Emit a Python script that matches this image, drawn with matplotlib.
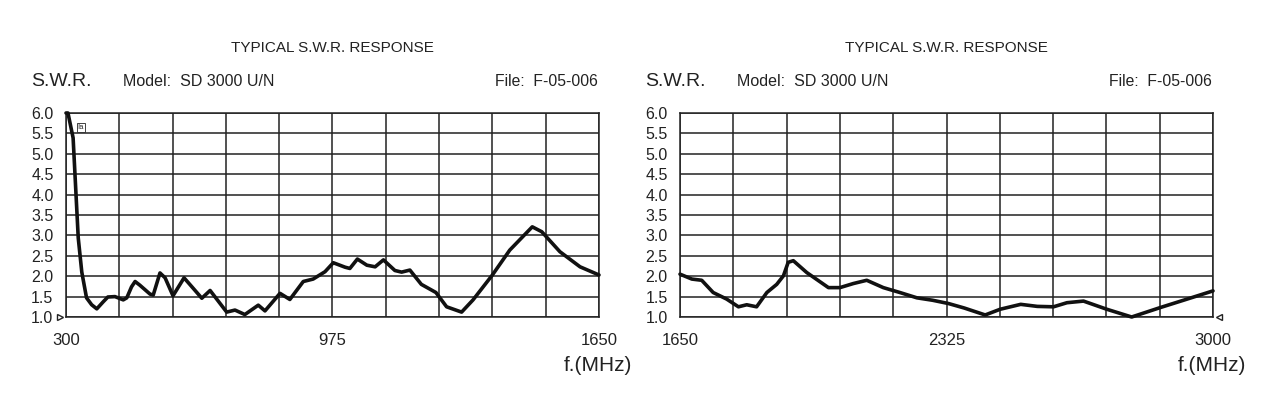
import matplotlib.pyplot as plt
import numpy as np

# S.W.R. readings, 300 - 1650 MHz
freq_lo = [300, 305, 318, 331, 340, 352, 365, 378, 394, 406, 424, 432, 445, 454,
           466, 475, 487, 513, 521, 538, 551, 571, 599, 618, 644, 665, 707, 728,
           753, 787, 804, 842, 867, 901, 926, 956, 977, 1007, 1019, 1038, 1062,
           1083, 1104, 1133, 1150, 1171, 1200, 1237, 1264, 1302, 1331, 1380,
           1424, 1481, 1505, 1551, 1602, 1650]
swr_lo = [6.0, 6.0, 5.39, 2.94, 2.1, 1.47, 1.3, 1.2, 1.37, 1.49, 1.5, 1.47, 1.42,
          1.47, 1.74, 1.87, 1.78, 1.56, 1.54, 2.08, 1.96, 1.52, 1.96, 1.75, 1.46,
          1.65, 1.12, 1.17, 1.06, 1.29, 1.15, 1.58, 1.43, 1.87, 1.93, 2.11, 2.33,
          2.22, 2.19, 2.42, 2.27, 2.23, 2.40, 2.14, 2.10, 2.15, 1.80, 1.60, 1.25,
          1.12, 1.42, 2.03, 2.64, 3.21, 3.09, 2.60, 2.23, 2.03]

# S.W.R. readings, 1650 - 3000 MHz
freq_hi = [1650, 1680, 1705, 1734, 1768, 1798, 1819, 1844, 1870, 1895, 1912,
           1924, 1937, 1971, 2026, 2055, 2089, 2123, 2165, 2207, 2250, 2290,
           2330, 2370, 2423, 2461, 2513, 2555, 2596, 2630, 2672, 2731, 2794,
           2866, 2925, 3000]
swr_hi = [2.05, 1.93, 1.90, 1.60, 1.44, 1.25, 1.30, 1.25, 1.60, 1.80, 2.01, 2.34,
          2.38, 2.09, 1.72, 1.72, 1.82, 1.90, 1.72, 1.60, 1.47, 1.41, 1.33, 1.22,
          1.05, 1.19, 1.31, 1.26, 1.25, 1.35, 1.39, 1.19, 1.00, 1.23, 1.41, 1.64]

panels = [
    (freq_lo, swr_lo, 300, 1650, ["300", "975", "1650"]),
    (freq_hi, swr_hi, 1650, 3000, ["1650", "2325", "3000"]),
]
y_ticks = np.arange(1.0, 6.01, 0.5)

plt.rcParams["font.family"] = ["Liberation Sans", "DejaVu Sans"]
fig = plt.figure(figsize=(12.74, 3.97), dpi=100)

ink = "#222222"
lefts = [66 / 1274, 680 / 1274]
W, H = 1274, 397
for i, (f, s, f0, f1, xlabels) in enumerate(panels):
    ax = fig.add_axes([lefts[i], 1 - 317 / H, 533 / W, 204 / H])
    ax.plot(f, s, color="#111111", lw=2.6, solid_capstyle="round",
            solid_joinstyle="round", clip_on=False, zorder=3)
    ax.set_xlim(f0, f1)
    ax.set_ylim(1.0, 6.0)
    ax.set_xticks(np.linspace(f0, f1, 11))
    ax.set_yticks(y_ticks)
    ax.grid(True, color=ink, lw=1.1)
    ax.tick_params(length=0, labelbottom=False, labelsize=11.5, pad=9,
                   colors=ink)
    ax.set_yticklabels([f"{v:.1f}" for v in y_ticks])
    for sp in ax.spines.values():
        sp.set_color(ink)
        sp.set_linewidth(1.1)
    for xv, lab in zip([f0, (f0 + f1) / 2, f1], xlabels):
        ax.text(xv, -0.115, lab, transform=ax.get_xaxis_transform(),
                ha="center", va="center", fontsize=12, color=ink)
    ax.text(1.062, -0.24, "f.(MHz)", transform=ax.transAxes, ha="right",
            va="center", fontsize=15, color=ink)
    ax.text(0.5, 1.32, "TYPICAL S.W.R. RESPONSE", transform=ax.transAxes,
            ha="center", va="center", fontsize=11, color=ink)
    ax.text(-0.065, 1.155, "S.W.R.", transform=ax.transAxes, ha="left",
            va="center", fontsize=14, color=ink)
    ax.text(0.107, 1.155, "Model:  SD 3000 U/N", transform=ax.transAxes,
            ha="left", va="center", fontsize=11.5, color=ink)
    ax.text(0.998, 1.155, "File:  F-05-006", transform=ax.transAxes,
            ha="right", va="center", fontsize=11.3, color=ink)
    # small marker triangles at 1.0
    if i == 0:
        ax.plot([-0.012], [0.0], marker=">", ms=4, mfc="white", mec=ink,
                transform=ax.transAxes, clip_on=False)
        ax.text(0.022, 0.93, "Ia", transform=ax.transAxes, fontsize=5.5,
                ha="left", va="center", color=ink,
                bbox=dict(boxstyle="square,pad=0.1", fc="white", ec=ink,
                          lw=0.6))
    else:
        ax.plot([1.012], [0.0], marker="<", ms=4, mfc="white", mec=ink,
                transform=ax.transAxes, clip_on=False)

fig.savefig("out.png", dpi=100, facecolor="white")
